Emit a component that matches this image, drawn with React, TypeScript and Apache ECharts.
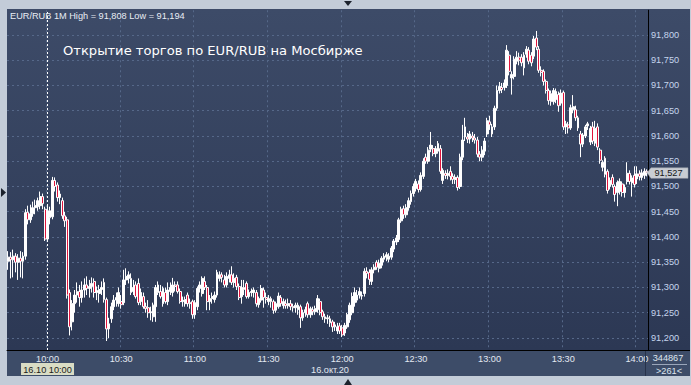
import React, { useEffect, useRef } from 'react';
import * as echarts from 'echarts';

// 1-minute candles, each row: [open, close, low, high]
const START_TIME = '09:44';
const candles0944 = [
  [91.352, 91.360, 91.335, 91.372], [91.360, 91.355, 91.318, 91.370], [91.355, 91.362, 91.320, 91.375],
  [91.362, 91.350, 91.330, 91.368], [91.350, 91.358, 91.315, 91.366], [91.358, 91.352, 91.320, 91.372],
  [91.352, 91.362, 91.318, 91.370], [91.362, 91.448, 91.355, 91.455], [91.449, 91.434, 91.425, 91.462],
  [91.434, 91.446, 91.428, 91.464], [91.446, 91.458, 91.440, 91.470], [91.458, 91.462, 91.445, 91.474],
  [91.460, 91.472, 91.452, 91.478], [91.462, 91.480, 91.455, 91.490], [91.480, 91.466, 91.455, 91.486],
  [91.455, 91.396, 91.392, 91.460],
];
const candles1000 = [
  [91.396, 91.452, 91.390, 91.462], [91.452, 91.438, 91.425, 91.460], [91.440, 91.512, 91.435, 91.519],
  [91.512, 91.500, 91.490, 91.518], [91.503, 91.478, 91.470, 91.508], [91.478, 91.485, 91.465, 91.492],
  [91.472, 91.442, 91.436, 91.478], [91.442, 91.432, 91.420, 91.450], [91.434, 91.285, 91.278, 91.440],
  [91.290, 91.222, 91.205, 91.296], [91.232, 91.268, 91.215, 91.275], [91.268, 91.285, 91.250, 91.295],
  [91.285, 91.292, 91.270, 91.310], [91.292, 91.280, 91.262, 91.305], [91.280, 91.295, 91.270, 91.312],
  [91.295, 91.305, 91.280, 91.318], [91.305, 91.298, 91.285, 91.322], [91.298, 91.302, 91.280, 91.315],
  [91.302, 91.308, 91.290, 91.320], [91.312, 91.290, 91.280, 91.318], [91.290, 91.294, 91.275, 91.302],
  [91.288, 91.296, 91.270, 91.305], [91.296, 91.300, 91.285, 91.312], [91.310, 91.276, 91.270, 91.318],
  [91.276, 91.218, 91.194, 91.280], [91.218, 91.228, 91.200, 91.240], [91.238, 91.262, 91.230, 91.270],
  [91.262, 91.275, 91.255, 91.285], [91.275, 91.280, 91.262, 91.290], [91.268, 91.290, 91.262, 91.300],
];
const candles1030 = [
  [91.272, 91.266, 91.258, 91.285], [91.270, 91.315, 91.265, 91.335], [91.315, 91.322, 91.305, 91.338],
  [91.318, 91.325, 91.308, 91.332], [91.318, 91.290, 91.285, 91.328], [91.292, 91.300, 91.285, 91.315],
  [91.305, 91.282, 91.278, 91.312], [91.308, 91.270, 91.265, 91.318], [91.272, 91.290, 91.265, 91.298],
  [91.282, 91.262, 91.258, 91.290], [91.262, 91.258, 91.250, 91.270], [91.260, 91.250, 91.240, 91.275],
  [91.250, 91.252, 91.235, 91.262], [91.242, 91.265, 91.232, 91.270], [91.262, 91.300, 91.232, 91.305],
  [91.290, 91.305, 91.285, 91.312], [91.292, 91.282, 91.278, 91.305], [91.268, 91.298, 91.262, 91.302],
  [91.290, 91.272, 91.268, 91.300], [91.272, 91.295, 91.265, 91.310], [91.292, 91.300, 91.285, 91.310],
  [91.290, 91.305, 91.282, 91.319], [91.305, 91.302, 91.292, 91.312], [91.305, 91.292, 91.288, 91.312],
  [91.292, 91.272, 91.268, 91.298], [91.272, 91.275, 91.262, 91.282], [91.268, 91.276, 91.262, 91.282],
  [91.285, 91.268, 91.262, 91.290], [91.268, 91.270, 91.258, 91.278], [91.272, 91.246, 91.238, 91.276],
];
const candles1100 = [
  [91.246, 91.270, 91.238, 91.275], [91.262, 91.298, 91.255, 91.302], [91.298, 91.305, 91.290, 91.312],
  [91.288, 91.318, 91.282, 91.322], [91.312, 91.300, 91.295, 91.322], [91.300, 91.272, 91.255, 91.305],
  [91.272, 91.278, 91.255, 91.285], [91.278, 91.282, 91.268, 91.290], [91.276, 91.285, 91.270, 91.292],
  [91.285, 91.330, 91.280, 91.335], [91.318, 91.325, 91.312, 91.332], [91.325, 91.320, 91.310, 91.330],
  [91.315, 91.305, 91.300, 91.325], [91.305, 91.322, 91.300, 91.330], [91.318, 91.325, 91.310, 91.335],
  [91.325, 91.310, 91.305, 91.342], [91.310, 91.318, 91.300, 91.328], [91.320, 91.302, 91.295, 91.325],
  [91.302, 91.280, 91.275, 91.308], [91.282, 91.300, 91.268, 91.315], [91.300, 91.296, 91.285, 91.315],
  [91.308, 91.282, 91.278, 91.312], [91.282, 91.290, 91.278, 91.296], [91.290, 91.292, 91.282, 91.298],
  [91.290, 91.295, 91.280, 91.300], [91.290, 91.268, 91.262, 91.295], [91.266, 91.278, 91.260, 91.282],
  [91.275, 91.298, 91.270, 91.305], [91.295, 91.280, 91.260, 91.300], [91.280, 91.276, 91.268, 91.290],
];
const candles1130 = [
  [91.272, 91.278, 91.265, 91.285], [91.278, 91.272, 91.260, 91.282], [91.272, 91.255, 91.248, 91.276],
  [91.255, 91.268, 91.250, 91.272], [91.262, 91.283, 91.258, 91.290], [91.280, 91.268, 91.262, 91.285],
  [91.264, 91.272, 91.258, 91.278], [91.268, 91.264, 91.258, 91.276], [91.264, 91.268, 91.258, 91.278],
  [91.268, 91.262, 91.255, 91.275], [91.262, 91.260, 91.252, 91.268], [91.260, 91.265, 91.250, 91.270],
  [91.256, 91.265, 91.246, 91.270], [91.262, 91.240, 91.220, 91.266], [91.240, 91.250, 91.234, 91.256],
  [91.250, 91.256, 91.242, 91.262], [91.268, 91.246, 91.240, 91.272], [91.246, 91.258, 91.240, 91.262],
  [91.256, 91.252, 91.245, 91.262], [91.252, 91.258, 91.246, 91.264], [91.256, 91.278, 91.250, 91.285],
  [91.272, 91.250, 91.245, 91.278], [91.252, 91.242, 91.236, 91.256], [91.242, 91.238, 91.230, 91.248],
  [91.238, 91.240, 91.228, 91.246], [91.238, 91.230, 91.222, 91.244], [91.232, 91.222, 91.212, 91.236],
  [91.222, 91.226, 91.214, 91.232], [91.214, 91.222, 91.208, 91.230], [91.224, 91.214, 91.208, 91.230],
];
const candles1200 = [
  [91.220, 91.206, 91.202, 91.226], [91.210, 91.225, 91.204, 91.230], [91.222, 91.246, 91.218, 91.250],
  [91.236, 91.265, 91.230, 91.270], [91.250, 91.282, 91.245, 91.290], [91.270, 91.290, 91.262, 91.300],
  [91.275, 91.285, 91.270, 91.295], [91.285, 91.292, 91.278, 91.300], [91.283, 91.284, 91.276, 91.292],
  [91.288, 91.332, 91.282, 91.338], [91.332, 91.328, 91.318, 91.340], [91.330, 91.316, 91.305, 91.336],
  [91.312, 91.335, 91.305, 91.340], [91.335, 91.340, 91.328, 91.346], [91.350, 91.340, 91.335, 91.354],
  [91.338, 91.348, 91.330, 91.355], [91.344, 91.358, 91.338, 91.362], [91.356, 91.362, 91.350, 91.368],
  [91.360, 91.365, 91.352, 91.370], [91.356, 91.362, 91.350, 91.368], [91.360, 91.378, 91.355, 91.382],
  [91.376, 91.392, 91.370, 91.396], [91.390, 91.398, 91.384, 91.404], [91.395, 91.434, 91.390, 91.438],
  [91.432, 91.455, 91.428, 91.460], [91.456, 91.444, 91.436, 91.462], [91.444, 91.458, 91.438, 91.465],
  [91.458, 91.472, 91.452, 91.478], [91.470, 91.486, 91.464, 91.492], [91.486, 91.500, 91.480, 91.506],
];
const candles1230 = [
  [91.496, 91.510, 91.490, 91.515], [91.505, 91.494, 91.488, 91.512], [91.494, 91.522, 91.490, 91.528],
  [91.520, 91.550, 91.515, 91.556], [91.558, 91.550, 91.545, 91.565], [91.550, 91.572, 91.545, 91.578],
  [91.574, 91.582, 91.568, 91.608], [91.575, 91.565, 91.560, 91.582], [91.565, 91.575, 91.558, 91.580],
  [91.570, 91.585, 91.565, 91.590], [91.575, 91.530, 91.525, 91.582], [91.512, 91.532, 91.505, 91.536],
  [91.526, 91.522, 91.515, 91.532], [91.522, 91.526, 91.514, 91.534], [91.530, 91.520, 91.512, 91.540],
  [91.520, 91.514, 91.505, 91.526], [91.514, 91.518, 91.505, 91.524], [91.518, 91.498, 91.492, 91.522],
  [91.500, 91.558, 91.495, 91.565], [91.558, 91.592, 91.552, 91.622], [91.618, 91.598, 91.590, 91.636],
  [91.598, 91.594, 91.586, 91.606], [91.594, 91.604, 91.585, 91.610], [91.600, 91.596, 91.588, 91.608],
  [91.596, 91.592, 91.585, 91.604], [91.592, 91.564, 91.558, 91.598], [91.564, 91.558, 91.550, 91.570],
  [91.558, 91.572, 91.550, 91.580], [91.570, 91.590, 91.562, 91.596], [91.604, 91.630, 91.598, 91.636],
];
const candles1300 = [
  [91.628, 91.622, 91.612, 91.640], [91.618, 91.604, 91.598, 91.624], [91.618, 91.655, 91.612, 91.660],
  [91.655, 91.690, 91.650, 91.700], [91.690, 91.698, 91.684, 91.707], [91.696, 91.692, 91.685, 91.705],
  [91.696, 91.705, 91.690, 91.712], [91.700, 91.770, 91.695, 91.780], [91.760, 91.728, 91.720, 91.768],
  [91.715, 91.722, 91.682, 91.728], [91.718, 91.752, 91.712, 91.758], [91.748, 91.756, 91.742, 91.768],
  [91.756, 91.750, 91.740, 91.765], [91.756, 91.745, 91.738, 91.762], [91.735, 91.760, 91.720, 91.766],
  [91.762, 91.772, 91.755, 91.778], [91.770, 91.748, 91.742, 91.776], [91.760, 91.745, 91.738, 91.766],
  [91.758, 91.792, 91.752, 91.798], [91.794, 91.776, 91.770, 91.808], [91.772, 91.730, 91.725, 91.778],
  [91.730, 91.726, 91.718, 91.738], [91.728, 91.708, 91.700, 91.732], [91.708, 91.690, 91.684, 91.712],
  [91.690, 91.670, 91.662, 91.694], [91.684, 91.668, 91.660, 91.690], [91.668, 91.690, 91.662, 91.695],
  [91.672, 91.688, 91.665, 91.694], [91.682, 91.660, 91.648, 91.688], [91.665, 91.685, 91.660, 91.692],
];
const candles1330 = [
  [91.686, 91.618, 91.612, 91.690], [91.618, 91.624, 91.604, 91.630], [91.622, 91.616, 91.605, 91.628],
  [91.616, 91.656, 91.612, 91.662], [91.652, 91.658, 91.645, 91.681], [91.652, 91.636, 91.630, 91.660],
  [91.636, 91.616, 91.610, 91.640], [91.604, 91.584, 91.558, 91.610], [91.584, 91.602, 91.578, 91.606],
  [91.600, 91.618, 91.596, 91.622], [91.620, 91.624, 91.612, 91.628], [91.588, 91.615, 91.582, 91.620],
  [91.618, 91.590, 91.584, 91.628], [91.586, 91.615, 91.580, 91.630], [91.618, 91.578, 91.572, 91.625],
  [91.572, 91.552, 91.545, 91.576], [91.538, 91.548, 91.530, 91.552], [91.556, 91.524, 91.518, 91.560],
  [91.530, 91.492, 91.486, 91.534], [91.500, 91.512, 91.494, 91.518], [91.518, 91.504, 91.498, 91.524],
  [91.500, 91.484, 91.470, 91.504], [91.488, 91.508, 91.461, 91.512], [91.490, 91.510, 91.484, 91.516],
  [91.505, 91.488, 91.480, 91.510], [91.488, 91.498, 91.478, 91.504], [91.510, 91.526, 91.504, 91.548],
  [91.526, 91.510, 91.504, 91.532], [91.507, 91.517, 91.480, 91.522], [91.522, 91.504, 91.498, 91.540],
];
const candles1400 = [
  [91.515, 91.525, 91.505, 91.540], [91.525, 91.520, 91.512, 91.532], [91.518, 91.527, 91.512, 91.534],
  [91.522, 91.530, 91.515, 91.536], [91.530, 91.527, 91.520, 91.534],
];

const HEADER_SYMBOL = 'EUR/RUB 1M';
const ANNOTATION = 'Открытие торгов по EUR/RUB на Мосбирже';
const MARKER_TIME = '10:00';
const MARKER_LABEL = '16.10 10:00';
const DATE_LABEL = '16.окт.20';
const VOLUME_LABEL = '344867';

const candles = [
  ...candles0944, ...candles1000, ...candles1030, ...candles1100, ...candles1130,
  ...candles1200, ...candles1230, ...candles1300, ...candles1330, ...candles1400,
];

const pad = (n: number) => String(n).padStart(2, '0');
const startMin = Number(START_TIME.slice(0, 2)) * 60 + Number(START_TIME.slice(3));
const times = candles.map((_, i) => {
  const m = startMin + i;
  return `${pad(Math.floor(m / 60))}:${pad(m % 60)}`;
});

const fmt = (v: number) => v.toFixed(3).replace('.', ',');
const isHalfHour = (v: string) => Number(v.slice(3)) % 30 === 0;

const FONT = '"Liberation Sans", Arial, sans-serif';

export default function App() {
  const ref = useRef<HTMLDivElement>(null);
  useEffect(() => {
    if (!ref.current) return;
    const chart = echarts.init(ref.current, null, { renderer: 'svg' });
    const hi = Math.max(...candles.map((c) => c[3]));
    const lo = Math.min(...candles.map((c) => c[2]));
    const last = candles[candles.length - 1][1];

    chart.setOption({
      animation: false,
      backgroundColor: '#c3ccd8',
      grid: { left: 7, right: 43, top: 10.25, bottom: 35 },
      xAxis: {
        type: 'category',
        data: times,
        boundaryGap: true,
        z: 3,
        axisLine: { show: true, lineStyle: { color: '#000000', width: 1 } },
        axisTick: { show: false },
        axisLabel: {
          interval: (_i: number, v: string) => isHalfHour(v),
          color: '#e2e8f1',
          fontSize: 9.2,
          fontFamily: FONT,
          margin: 4,
        },
        splitLine: {
          show: true,
          interval: (_i: number, v: string) => isHalfHour(v),
          lineStyle: { color: '#566889', type: [2, 3], width: 1 },
        },
      },
      yAxis: {
        type: 'value',
        position: 'right',
        min: 91.1762,
        max: 91.849,
        splitNumber: 13,
        z: 3,
        axisLine: { show: true, lineStyle: { color: '#000000', width: 1 } },
        axisTick: { show: false },
        axisLabel: {
          showMinLabel: false,
          showMaxLabel: false,
          formatter: (v: number) => fmt(v),
          color: '#c6d5ed',
          fontSize: 9.2,
          fontFamily: FONT,
          margin: 3,
        },
        splitLine: {
          show: true,
          showMinLine: false,
          showMaxLine: false,
          lineStyle: { color: '#566889', type: [2, 3], width: 1 },
        },
      },
      series: [
        {
          type: 'candlestick',
          data: candles,
          barWidth: 2.4,
          z: 4,
          itemStyle: {
            color: '#ffffff',
            color0: '#e0143c',
            borderColor: '#ffffff',
            borderColor0: '#ffffff',
            borderWidth: 1,
          },
          markLine: {
            silent: true,
            symbol: ['none', 'none'],
            label: { show: false },
            lineStyle: { color: '#ffffff', type: [2, 2], width: 1 },
            data: [{ xAxis: MARKER_TIME }],
          },
        },
      ],
    });

    const yLast = chart.convertToPixel({ yAxisIndex: 0 }, last) as number;
    const xMark = chart.convertToPixel({ xAxisIndex: 0 }, MARKER_TIME) as number;

    chart.setOption({
      graphic: {
        elements: [
          {
            type: 'rect', z: -100, silent: true,
            shape: { x: 7, y: 9, width: 683, height: 341 },
            style: {
              fill: {
                type: 'linear', x: 0, y: 0, x2: 0, y2: 1,
                colorStops: [
                  { offset: 0, color: '#3d4b68' },
                  { offset: 1, color: '#2c3854' },
                ],
              },
            },
          },
          {
            type: 'rect', z: -100, silent: true,
            shape: { x: 7, y: 350, width: 683, height: 26 },
            style: { fill: '#3d4c68' },
          },
          { type: 'line', z: 50, shape: { x1: 648, y1: 350.5, x2: 690, y2: 350.5 }, style: { stroke: '#000000', lineWidth: 1 } },
          { type: 'line', z: 50, shape: { x1: 645.5, y1: 351, x2: 645.5, y2: 376 }, style: { stroke: '#27324a', lineWidth: 1 } },
          { type: 'line', z: 50, shape: { x1: 652, y1: 364.5, x2: 687, y2: 364.5 }, style: { stroke: '#9aa6ba', lineWidth: 1 } },
          {
            type: 'text', z: 50, x: 668, y: 357.5,
            style: { text: VOLUME_LABEL, fill: '#dfe6f0', font: `9.2px ${FONT}`, textAlign: 'center', textVerticalAlign: 'middle' },
          },
          {
            type: 'text', z: 50, x: 669, y: 370.5,
            style: { text: `>${candles.length}<`, fill: '#dfe6f0', font: `9.2px ${FONT}`, textAlign: 'center', textVerticalAlign: 'middle' },
          },
          {
            type: 'text', z: 50, x: 10, y: 15.5,
            style: {
              text: `${HEADER_SYMBOL} High = ${fmt(hi)} Low = ${fmt(lo)}`,
              fill: '#e8edf4', font: `9.2px ${FONT}`, textVerticalAlign: 'middle',
            },
          },
          {
            type: 'text', z: 50, x: 63, y: 50,
            style: { text: ANNOTATION, fill: '#ffffff', font: '13.1px "DejaVu Sans", sans-serif', textVerticalAlign: 'middle' },
          },
          {
            type: 'rect', z: 50,
            shape: { x: xMark - 26.5, y: 363, width: 53, height: 12 },
            style: { fill: '#d9dcc4' },
          },
          {
            type: 'text', z: 51, x: xMark, y: 369.5,
            style: { text: MARKER_LABEL, fill: '#1a1a1a', font: `9.2px ${FONT}`, textAlign: 'center', textVerticalAlign: 'middle' },
          },
          {
            type: 'text', z: 50, x: 330, y: 369.5,
            style: { text: DATE_LABEL, fill: '#e2e8f1', font: `9.2px ${FONT}`, textAlign: 'center', textVerticalAlign: 'middle' },
          },
          {
            type: 'polygon', z: 50,
            shape: { points: [[647, yLast], [651, yLast - 5], [688, yLast - 5], [688, yLast + 5.5], [651, yLast + 5.5]] },
            style: { fill: '#c9cdd3', stroke: '#9aa0a8', lineWidth: 0.5 },
          },
          {
            type: 'text', z: 51, x: 668.5, y: yLast + 0.5,
            style: { text: fmt(last), fill: '#161616', font: `9.2px ${FONT}`, textAlign: 'center', textVerticalAlign: 'middle' },
          },
          { type: 'polygon', z: 50, shape: { points: [[344, 1], [352, 1], [348, 6]] }, style: { fill: '#1c222c' } },
          { type: 'polygon', z: 50, shape: { points: [[344, 385], [352, 385], [348, 379]] }, style: { fill: '#1c222c' } },
          { type: 'polygon', z: 50, shape: { points: [[1, 188], [1, 197], [6, 192.5]] }, style: { fill: '#1c222c' } },
        ],
      },
    });

    return () => chart.dispose();
  }, []);
  return (
    <div
      ref={ref}
      style={{ position: 'absolute', left: 0, top: 0, width: 691, height: 385 }}
    />
  );
}
